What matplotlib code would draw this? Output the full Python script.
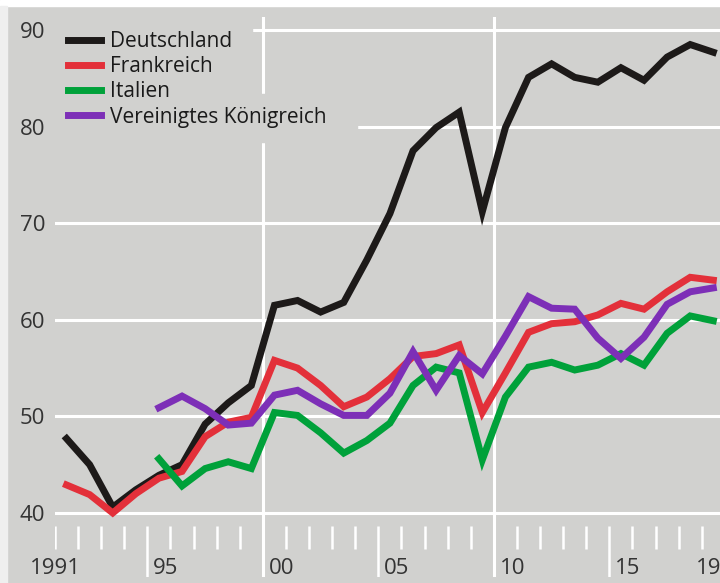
import numpy as np
import matplotlib
matplotlib.use('Agg')
import matplotlib.pyplot as plt
from matplotlib.patches import Rectangle

plt.rcParams['font.family'] = ['Open Sans', 'DejaVu Sans']

# values
years = np.arange(1991, 2020)
years_late = np.arange(1995, 2020)
deutschland = [47.7, 45.0, 40.6, 42.4, 43.9, 45.0, 49.2, 51.4, 53.2, 61.5,
               62.0, 60.8, 61.8, 66.2, 71.0, 77.5, 79.9, 81.5, 71.2, 79.9,
               85.1, 86.5, 85.1, 84.6, 86.1, 84.8, 87.2, 88.5, 87.7]
frankreich = [42.9, 41.9, 40.0, 42.0, 43.6, 44.3, 47.9, 49.4, 49.9, 55.8,
              55.0, 53.2, 51.0, 52.0, 53.9, 56.2, 56.5, 57.4, 50.4, 54.5,
              58.7, 59.6, 59.8, 60.5, 61.7, 61.1, 62.9, 64.4, 64.1]
italien = [45.6, 42.8, 44.6, 45.3, 44.6, 50.4, 50.1, 48.3, 46.2, 47.5,
           49.3, 53.2, 55.1, 54.5, 45.5, 52.0, 55.1, 55.6, 54.8, 55.3,
           56.5, 55.3, 58.6, 60.4, 59.9]
uk = [50.9, 52.1, 50.8, 49.1, 49.3, 52.2, 52.7, 51.3, 50.1, 50.1,
      52.4, 56.7, 52.7, 56.3, 54.4, 58.3, 62.4, 61.2, 61.1, 58.1,
      56.0, 58.2, 61.6, 62.9, 63.3]
labels = ['Deutschland', 'Frankreich', 'Italien', 'Vereinigtes Königreich']
colors = ['#1d1a19', '#e3303a', '#00a13a', '#7d2fb7']

yticks = [40, 50, 60, 70, 80, 90]
xlabels = [(1991, '1991'), (1995, '95'), (2000, '00'), (2005, '05'),
           (2010, '10'), (2015, '15'), (2019, '19')]

bg = '#d1d1cf'
W, H = 720., 583.

fig = plt.figure(figsize=(7.2, 5.83), dpi=100, facecolor=bg)
# white strip on top, light strip on the left
fig.patches.append(Rectangle((0, 1 - 6 / H), 1, 6 / H, transform=fig.transFigure,
                             color='white', zorder=0))
fig.patches.append(Rectangle((0, 0), 7 / W, 1 - 6 / H, transform=fig.transFigure,
                             color='#efefef', zorder=0))

ax = fig.add_axes([55 / W, 6 / H, 665 / W, 560 / H])
ax.set_facecolor(bg)
ax.set_xlim(1991, 2019.79)
ax.set_ylim(33.37, 91.35)
for s in ax.spines.values():
  s.set_visible(False)

# grid
for v in yticks:
  ax.axhline(v, color='white', lw=2.2, zorder=1)
for v in [2000, 2010]:
  ax.axvline(v, color='white', lw=2.2, zorder=1)

# legend backgrounds (hide grid behind legend rows)
ax.add_patch(Rectangle((55 / W, 1 - 94 / H), 197 / W, 77 / H, transform=fig.transFigure,
                       color=bg, zorder=1.5, clip_on=False))
ax.add_patch(Rectangle((55 / W, 1 - 142 / H), 302 / W, 48 / H, transform=fig.transFigure,
                       color=bg, zorder=1.5, clip_on=False))

# year ticks below the plot
short = [y for y in range(1991, 2020) if y % 5 != 0]
long_ = [1995, 2005, 2015]
ax.vlines(short, 36.27, 38.65, color='white', lw=1.8, zorder=1)
ax.vlines(long_, 33.37, 38.65, color='white', lw=1.8, zorder=1)

for yr, lab in xlabels:
  if lab == '1991':
    ax.text(yr + 0.0, 34.3, lab, ha='center', va='center', fontsize=16, color='#333333')
  elif lab == '19':
    ax.text(yr - 0.25, 34.3, lab, ha='left', va='center', fontsize=16, color='#333333',
            clip_on=True)
  else:
    ax.text(yr + 0.25, 34.3, lab, ha='left', va='center', fontsize=16, color='#333333')

ax.set_yticks(yticks)
ax.set_yticklabels([str(v) for v in yticks], fontsize=16, color='#333333')
ax.tick_params(axis='y', length=0, pad=7)
ax.set_xticks([])

# lines (points at middle of the year)
lw = 5
ax.plot(years + 0.5, deutschland, color=colors[0], lw=lw, solid_joinstyle='miter', zorder=3, label=labels[0])
ax.plot(years + 0.5, frankreich, color=colors[1], lw=lw, solid_joinstyle='miter', zorder=3, label=labels[1])
ax.plot(years_late + 0.5, italien, color=colors[2], lw=lw, solid_joinstyle='miter', zorder=3, label=labels[2])
ax.plot(years_late + 0.5, uk, color=colors[3], lw=lw, solid_joinstyle='miter', zorder=3, label=labels[3])

leg = ax.legend(loc='upper left', bbox_to_anchor=(68 / W, 1 - 31 / H),
                bbox_transform=fig.transFigure, frameon=False, fontsize=15,
                handlelength=1.6, handletextpad=0.4, labelspacing=0.2,
                borderpad=0, borderaxespad=0)
for line in leg.get_lines():
  line.set_linewidth(5)
for t in leg.get_texts():
  t.set_color('#1a1a1a')
leg.set_zorder(5)

plt.savefig('out.png', dpi=100, facecolor=bg)
print('Saved to', 'out.png')
